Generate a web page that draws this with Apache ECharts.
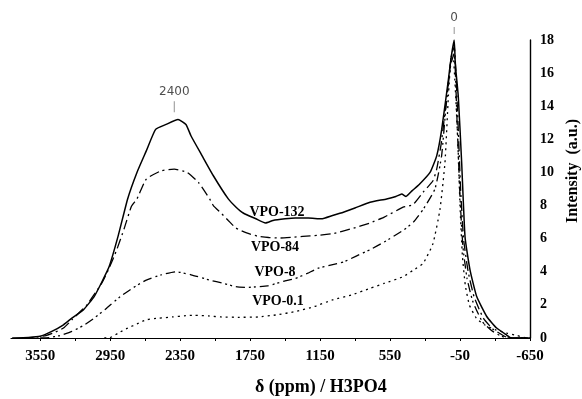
<!DOCTYPE html>
<html>
<head>
<meta charset="utf-8">
<script src="https://cdn.jsdelivr.net/npm/echarts@6/dist/echarts.min.js"></script>
<style>html,body{margin:0;padding:0;background:#fff;}#c{width:582px;height:399px;}</style>
</head>
<body>
<div id="c"></div>
<script>
// ---- data (ppm vs intensity, a.u.) ----
const vpo132X = [3790, 3650, 3550, 3450, 3350, 3278, 3180, 3087, 3020, 2959, 2880, 2800, 2720, 2640, 2560, 2470, 2368, 2300, 2256, 2161, 2065, 1937, 1870, 1809, 1700, 1618, 1554, 1450, 1362, 1250, 1139, 1043, 950, 851, 722, 579, 500, 450, 413, 360, 300, 207, 150, 107, 50, 25, 0, -10, -35, -64, -93, -136, -193, -279, -364, -450, -490, -650];
const vpo132Y = [0, 0.03, 0.1, 0.4, 0.8, 1.2, 1.7, 2.5, 3.4, 4.3, 6.2, 8.4, 10.0, 11.3, 12.6, 12.9, 13.2, 12.9, 12.2, 11.0, 9.8, 8.4, 7.9, 7.55, 7.2, 6.95, 7.1, 7.2, 7.25, 7.25, 7.2, 7.4, 7.6, 7.85, 8.2, 8.4, 8.55, 8.7, 8.55, 8.9, 9.27, 10.0, 11.0, 12.6, 15.6, 17.0, 18.0, 16.5, 14.6, 10.6, 6.1, 4.1, 2.5, 1.3, 0.6, 0.18, 0, 0];

const vpo84X = [3700, 3598, 3500, 3438, 3350, 3278, 3150, 3023, 2960, 2895, 2830, 2767, 2720, 2640, 2512, 2400, 2289, 2193, 2097, 2065, 2001, 1937, 1873, 1780, 1682, 1590, 1490, 1400, 1298, 1170, 1043, 880, 722, 600, 438, 353, 267, 182, 150, 110, 60, 25, 0, -30, -55, -80, -120, -170, -250, -330, -420, -470, -650];
const vpo84Y = [0, 0.03, 0.15, 0.3, 0.6, 1.1, 2.0, 3.3, 4.2, 5.3, 6.6, 7.96, 8.4, 9.6, 10.1, 10.2, 10.0, 9.4, 8.4, 8.0, 7.56, 7.1, 6.65, 6.35, 6.14, 6.07, 6.04, 6.08, 6.14, 6.2, 6.3, 6.6, 6.95, 7.3, 7.9, 8.06, 8.8, 9.5, 10.2, 11.8, 14.8, 17.0, 17.6, 13.5, 9.0, 6.0, 4.0, 2.5, 1.2, 0.55, 0.15, 0, 0];

const vpo8X = [3550, 3470, 3380, 3278, 3180, 3087, 2980, 2863, 2750, 2640, 2512, 2384, 2256, 2097, 1980, 1873, 1780, 1682, 1600, 1522, 1450, 1362, 1260, 1171, 1060, 947, 840, 722, 600, 438, 350, 267, 165, 108, 70, 30, 0, -25, -50, -75, -110, -160, -240, -320, -400, -450, -650];
const vpo8Y = [0, 0.03, 0.15, 0.4, 0.75, 1.2, 1.8, 2.5, 3.05, 3.5, 3.82, 4.0, 3.82, 3.5, 3.3, 3.1, 3.05, 3.1, 3.15, 3.3, 3.45, 3.6, 3.9, 4.2, 4.4, 4.6, 4.95, 5.33, 5.8, 6.5, 7.0, 7.76, 9.0, 11.0, 14.0, 16.5, 17.2, 13.0, 8.5, 5.5, 3.6, 2.2, 1.0, 0.45, 0.12, 0, 0];

const vpo01X = [3000, 2959, 2880, 2799, 2720, 2640, 2530, 2416, 2300, 2224, 2100, 2001, 1850, 1682, 1520, 1362, 1200, 1043, 880, 722, 600, 438, 350, 267, 182, 122, 79, 50, 27, 10, -10, -30, -50, -70, -95, -130, -190, -260, -350, -450, -540, -620, -650];
const vpo01Y = [0, 0, 0.3, 0.6, 0.85, 1.1, 1.2, 1.27, 1.35, 1.37, 1.33, 1.27, 1.25, 1.27, 1.4, 1.6, 1.9, 2.3, 2.6, 3.0, 3.3, 3.7, 4.1, 4.5, 5.7, 7.76, 10.6, 14.6, 17.0, 17.1, 15.0, 12.0, 8.0, 5.0, 3.2, 2.0, 1.2, 0.8, 0.5, 0.3, 0.15, 0, 0];

const seriesNames = ['VPO-132', 'VPO-84', 'VPO-8', 'VPO-0.1'];
const peakMarkX = [2400, 0];
const peakMarkY = [13.97, 18.58];
const peakMarkText = ['2400', '0'];
const xTickLabels = [3550, 2950, 2350, 1750, 1150, 550, -50, -650];
const yTickLabels = [0, 2, 4, 6, 8, 10, 12, 14, 16, 18];

function zip(xs, ys) { return xs.map((x, i) => [x, ys[i]]); }

const chart = echarts.init(document.getElementById('c'), null, {renderer: 'canvas'});
const serif = '"Liberation Serif", "Times New Roman", serif';

const lineStyles = [
  {type: 'solid', width: 1.5},
  {type: [10, 4, 2, 4], width: 1.3},
  {type: [9, 4, 2, 3, 2, 4], width: 1.3},
  {type: [2, 4], width: 1.3}
];
const dataSets = [zip(vpo132X, vpo132Y), zip(vpo84X, vpo84Y), zip(vpo8X, vpo8Y), zip(vpo01X, vpo01Y)];

const series = dataSets.map((d, i) => ({
  name: seriesNames[i],
  type: 'line',
  data: d,
  showSymbol: false,
  symbol: 'none',
  smooth: 0.15,
  lineStyle: Object.assign({color: '#000'}, lineStyles[i]),
  z: 5 - i
}));

series.push({
  name: 'marks',
  type: 'scatter',
  clip: false,
  symbol: 'rect',
  itemStyle: {color: '#777'},
  data: peakMarkX.map((x, i) => ({
    value: [x, peakMarkY[i]],
    name: peakMarkText[i],
    symbolSize: i === 0 ? [1, 11] : [1, 7]
  })),
  label: {
    show: true,
    position: 'top',
    distance: 3,
    formatter: p => p.name,
    color: '#222',
    fontFamily: '"DejaVu Sans", sans-serif',
    fontSize: 12
  },
  z: 10
});

chart.setOption({
  animation: false,
  backgroundColor: '#fff',
  grid: {left: 11, right: 52, top: 40, bottom: 61},
  xAxis: {
    type: 'value',
    inverse: true,
    min: -650,
    max: 3800,
    interval: 300,
    axisLine: {onZero: false, lineStyle: {color: '#000', width: 1.2}},
    axisTick: {show: true, inside: false, length: 3, lineStyle: {color: '#000'}},
    splitLine: {show: false},
    axisLabel: {
      margin: 11,
      fontFamily: serif,
      fontWeight: 'bold',
      fontSize: 15,
      color: '#000',
      showMaxLabel: false,
      formatter: v => (xTickLabels.indexOf(v) >= 0 ? String(v) : '')
    }
  },
  yAxis: {
    type: 'value',
    position: 'right',
    min: 0,
    max: 18,
    interval: 2,
    axisLine: {show: true, onZero: false, lineStyle: {color: '#000', width: 1.4}},
    axisTick: {show: false},
    splitLine: {show: false},
    axisLabel: {
      margin: 10,
      fontFamily: serif,
      fontWeight: 'bold',
      fontSize: 14,
      color: '#000',
      formatter: v => (yTickLabels.indexOf(v) >= 0 ? String(v) : '')
    }
  },
  graphic: [
    {type: 'text', left: 330 - 75, top: 378, style: {text: 'δ (ppm) / H3PO4', font: 'bold 18px ' + serif, fill: '#000', width: 150, textAlign: 'center'}},
    {type: 'text', x: 573, y: 171, rotation: Math.PI / 2, style: {text: 'Intensity  (a.u.)', font: 'bold 16px ' + serif, fill: '#000', textAlign: 'center', textVerticalAlign: 'middle'}},
    {type: 'text', x: 277, y: 212, style: {text: seriesNames[0], font: 'bold 14px ' + serif, fill: '#000', textAlign: 'center', textVerticalAlign: 'middle'}},
    {type: 'text', x: 275, y: 247, style: {text: seriesNames[1], font: 'bold 14px ' + serif, fill: '#000', textAlign: 'center', textVerticalAlign: 'middle'}},
    {type: 'text', x: 275, y: 272, style: {text: seriesNames[2], font: 'bold 14px ' + serif, fill: '#000', textAlign: 'center', textVerticalAlign: 'middle'}},
    {type: 'text', x: 278, y: 301, style: {text: seriesNames[3], font: 'bold 14px ' + serif, fill: '#000', textAlign: 'center', textVerticalAlign: 'middle'}}
  ],
  series: series
});
</script>
</body>
</html>
